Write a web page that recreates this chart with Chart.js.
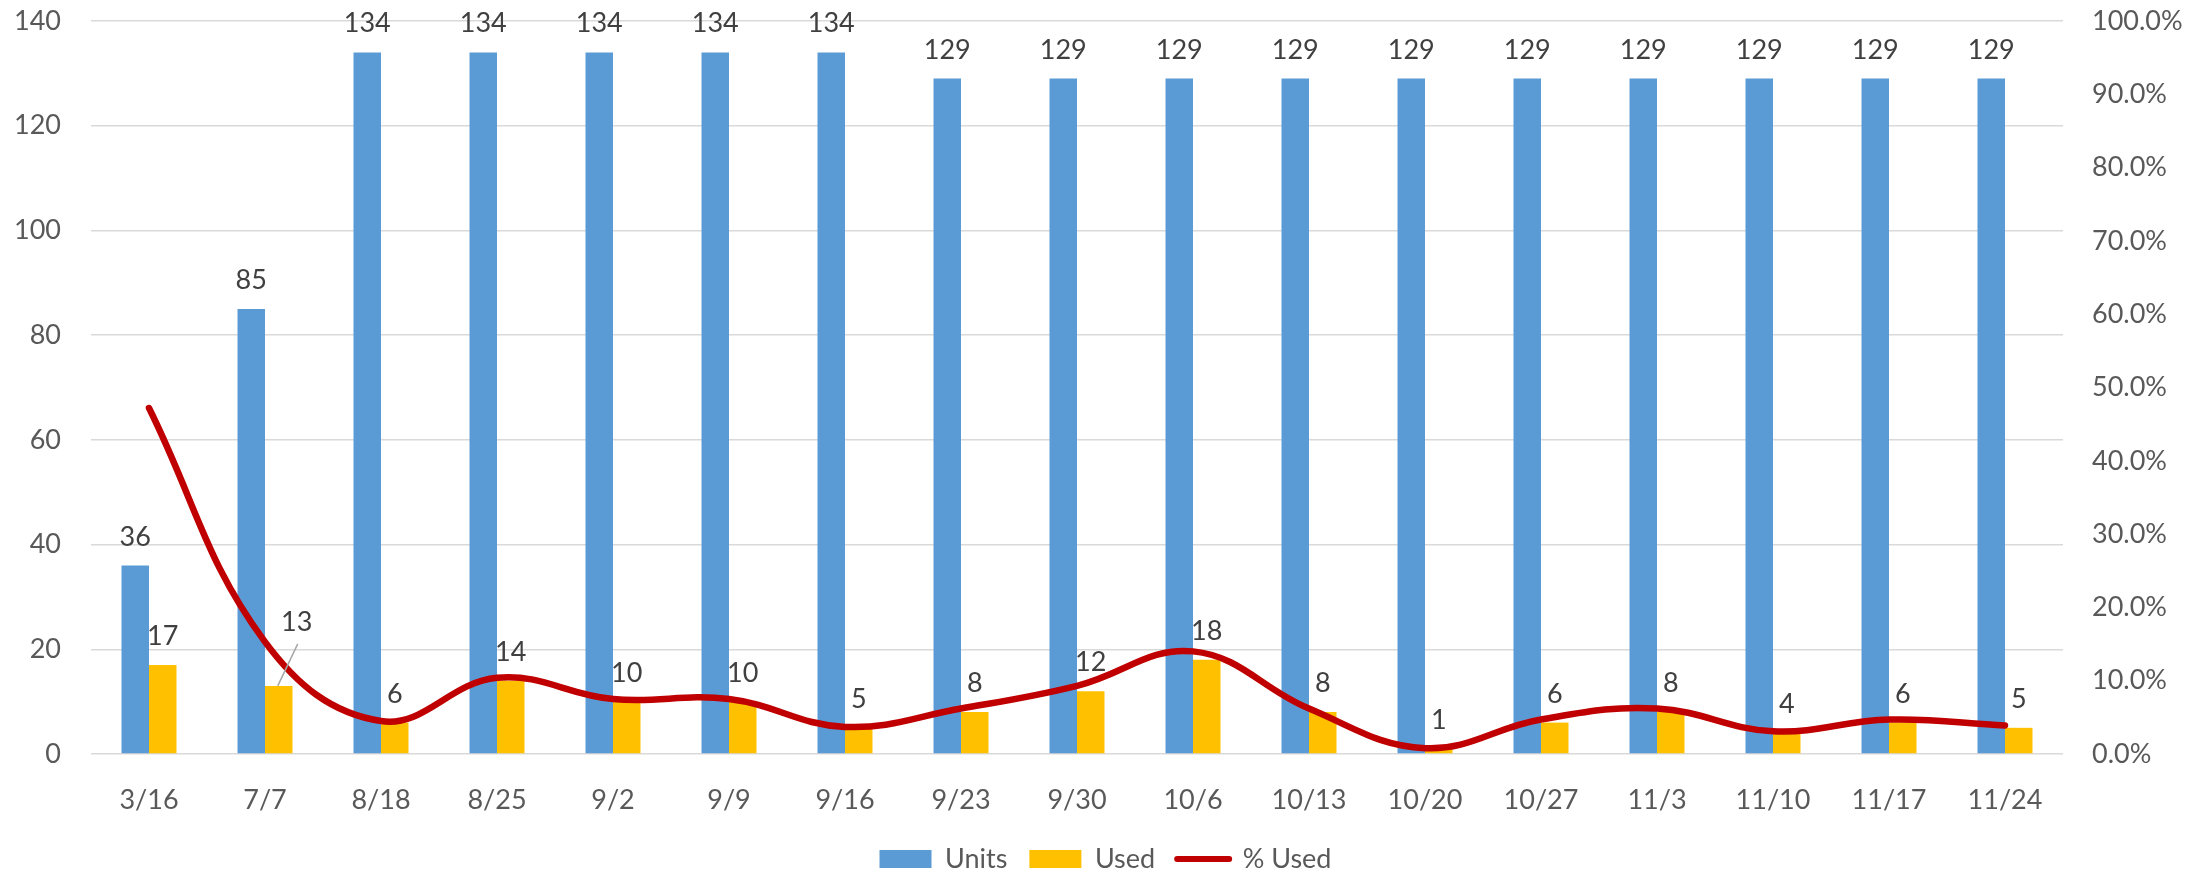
<!DOCTYPE html>
<html>
<head>
<meta charset="utf-8">
<script src="https://cdn.jsdelivr.net/npm/chart.js@4/dist/chart.umd.min.js"></script>
<style>
  html, body { margin: 0; padding: 0; background: #fff; }
  #wrap { width: 2211px; height: 874px; }
</style>
</head>
<body>
<div id="wrap"><canvas id="c" width="2211" height="874"></canvas></div>
<script>
const categories = ['3/16','7/7','8/18','8/25','9/2','9/9','9/16','9/23','9/30','10/6','10/13','10/20','10/27','11/3','11/10','11/17','11/24'];
const units = [36,85,134,134,134,134,134,129,129,129,129,129,129,129,129,129,129];
const used = [17,13,6,14,10,10,5,8,12,18,8,1,6,8,4,6,5];
const pctUsed = [47.2,15.3,4.5,10.4,7.5,7.5,3.7,6.2,9.3,14.0,6.2,0.8,4.7,6.2,3.1,4.7,3.9];
const leftAxis = { min: 0, max: 140, step: 20 };
const rightAxis = { min: 0, max: 100, step: 10 };
const seriesNames = ['Units', 'Used', '% Used'];

const FONT = 'Lato';
const textColor = '#595959';
const labelColor = '#404040';

const legendSizer = {
  id: 'legendSizer',
  afterInit(chart) {
    const lg = chart.legend;
    if (!lg) return;
    const origFit = lg.fit.bind(lg);
    lg.fit = function () { origFit(); this.height = 50.5; };
  }
};

const dataLabels = {
  id: 'dataLabels',
  afterDraw(chart) {
    const ctx = chart.ctx;
    ctx.save();
    ctx.font = '27px ' + FONT;
    ctx.fillStyle = labelColor;
    ctx.textAlign = 'center';
    ctx.textBaseline = 'alphabetic';
    [0, 1].forEach(di => {
      const meta = chart.getDatasetMeta(di);
      const vals = chart.data.datasets[di].data;
      meta.data.forEach((el, i) => {
        if (di === 1 && i === 1) {
          ctx.save();
          ctx.strokeStyle = '#A6A6A6';
          ctx.lineWidth = 1.5;
          ctx.beginPath();
          ctx.moveTo(el.x - 1, el.y);
          ctx.lineTo(el.x + 19, el.y - 42);
          ctx.stroke();
          ctx.restore();
          ctx.fillText(String(vals[i]), el.x + 18, el.y - 55);
        } else {
          ctx.fillText(String(vals[i]), el.x, el.y - 20);
        }
      });
    });
    ctx.restore();
  }
};

function fixVertical(width) {
  return function (scale) {
    scale.width = width;
    scale.paddingTop = 0;
    scale.paddingBottom = 0;
  };
}

new Chart(document.getElementById('c'), {
  data: {
    labels: categories,
    datasets: [
      { type: 'bar', label: seriesNames[0], data: units, backgroundColor: '#5B9BD5', yAxisID: 'y', order: 1,
        categoryPercentage: 0.474, barPercentage: 1.0 },
      { type: 'bar', label: seriesNames[1], data: used, backgroundColor: '#FFC000', yAxisID: 'y', order: 2,
        categoryPercentage: 0.474, barPercentage: 1.0 },
      { type: 'line', label: seriesNames[2], data: pctUsed, borderColor: '#C00000', backgroundColor: '#C00000',
        borderWidth: 6.5, pointRadius: 0, tension: 0.4, yAxisID: 'y1', order: 0,
        borderCapStyle: 'round', borderJoinStyle: 'round', fill: false }
    ]
  },
  options: {
    responsive: false,
    devicePixelRatio: 1,
    animation: false,
    layout: { padding: { top: 21, left: 0, right: 0, bottom: 0 } },
    plugins: {
      tooltip: { enabled: false },
      legend: {
        position: 'bottom',
        labels: {
          font: { family: FONT, size: 27, lineHeight: 1.0 },
          color: textColor,
          usePointStyle: true,
          pointStyleWidth: 52,
          boxHeight: 18,
          padding: 22,
          generateLabels(chart) {
            return chart.data.datasets.map((ds, i) => {
              const isLine = ds.type === 'line';
              return {
                text: ds.label,
                fillStyle: isLine ? ds.borderColor : ds.backgroundColor,
                strokeStyle: isLine ? ds.borderColor : ds.backgroundColor,
                lineWidth: isLine ? 6 : 0,
                lineCap: 'round',
                pointStyle: isLine ? 'line' : 'rect',
                hidden: !chart.isDatasetVisible(i),
                datasetIndex: i,
                fontColor: textColor
              };
            });
          }
        }
      }
    },
    scales: {
      x: {
        grid: { display: false, drawTicks: false },
        border: { display: false },
        ticks: { font: { family: FONT, size: 27 }, color: textColor, padding: 30, maxRotation: 0, autoSkip: false },
        afterFit(scale) { scale.height = 69.5; }
      },
      y: {
        position: 'left',
        min: leftAxis.min, max: leftAxis.max,
        grid: { color: '#D9D9D9', lineWidth: 1.5, drawTicks: false },
        border: { display: false },
        ticks: { stepSize: leftAxis.step, font: { family: FONT, size: 27 }, color: textColor, padding: 30 },
        afterFit: fixVertical(91)
      },
      y1: {
        position: 'right',
        min: rightAxis.min, max: rightAxis.max,
        grid: { display: false, drawTicks: false },
        border: { display: false },
        ticks: { stepSize: rightAxis.step, font: { family: FONT, size: 27 }, color: textColor, padding: 29,
          callback: v => Number(v).toFixed(1) + '%' },
        afterFit: fixVertical(148)
      }
    }
  },
  plugins: [legendSizer, dataLabels]
});
</script>
</body>
</html>
